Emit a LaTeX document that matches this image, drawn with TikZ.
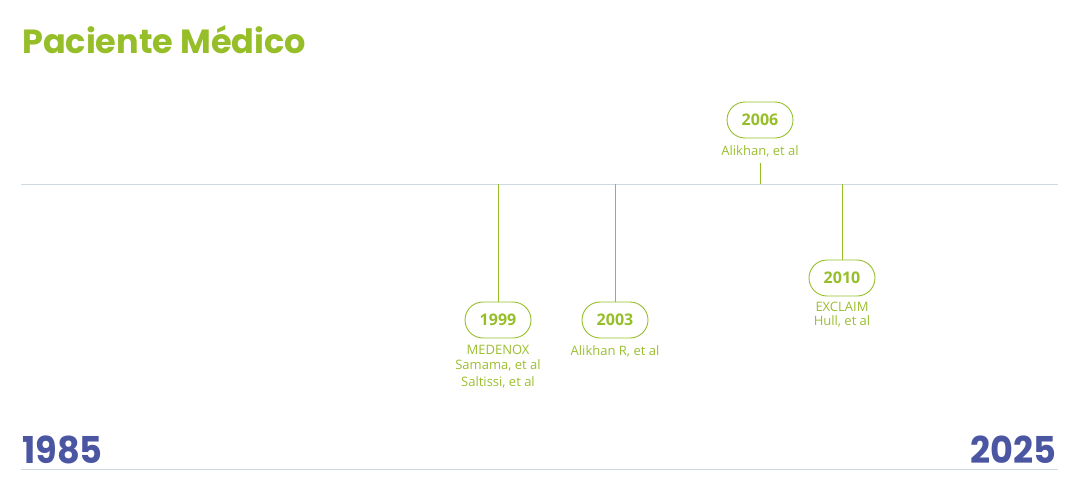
\documentclass[tikz,border=0pt]{standalone}
\usepackage{fontspec}
\setmainfont{Open Sans}
\newfontfamily\titlefont{Poppins}
\newfontfamily\yearfont{Poppins}[FakeStretch=0.95]
\definecolor{lime}{HTML}{96BE28}
\definecolor{limetxt}{HTML}{9BBE2F}
\definecolor{navy}{HTML}{4B56A2}
\definecolor{axisgray}{HTML}{CDD8E0}
\begin{document}
\begin{tikzpicture}[x=1pt,y=-1pt,
  pill/.style={draw=lime, line width=0.9pt, rounded corners=18pt, minimum width=66pt, minimum height=36pt, inner sep=0pt, text=lime, font=\fontsize{16}{16}\selectfont\bfseries},
  stem/.style={draw=lime, line width=0.9pt},
  lbl/.style={text=limetxt, font=\fontsize{13}{15}\selectfont, align=center, inner sep=0pt},
  axis/.style={draw=axisgray, line width=0.8pt},
  year/.style={text=navy, font=\yearfont\fontsize{37}{37}\selectfont\bfseries, inner sep=0pt}
]
\useasboundingbox (0,0) rectangle (1080,490);
\node[anchor=base west, inner sep=0pt, text=lime, font=\titlefont\fontsize{33.5}{33.5}\selectfont\bfseries] (title) at (22,53) {Paciente Médico};
\coordinate (axL) at (21,184); \coordinate (axR) at (1058,184);
\draw[axis] (axL) -- (axR);
\coordinate (bL) at (21,469); \coordinate (bR) at (1058,469);
\draw[axis] (bL) -- (bR);
\node[year, anchor=base west] (y1985) at (22,463) {1985};
\node[year, anchor=base east] (y2025) at (1057,463) {2025};
% 1999
\coordinate (a1999) at (498,184);
\node[pill] (p1999) at (498,320) {1999};
\draw[stem] (a1999) -- (p1999.north);
\node[lbl, anchor=north] (l1999) at (498,345) {MEDENOX\\Samama, et al\\[2pt]Saltissi, et al};
% 2003
\coordinate (a2003) at (615,184);
\node[pill] (p2003) at (615,320) {2003};
\draw[stem] (a2003) -- (p2003.north);
\node[lbl, anchor=north] (l2003) at (615,345) {Alikhan R, et al};
% 2006
\node[pill] (p2006) at (760,120) {2006};
\node[lbl, anchor=north] (l2006) at (760,145) {Alikhan, et al};
\coordinate (s2006) at (760,163);
\coordinate (a2006) at (760,184);
\draw[stem] (s2006) -- (a2006);
% 2010
\coordinate (a2010) at (842,184);
\node[pill] (p2010) at (842,278) {2010};
\draw[stem] (a2010) -- (p2010.north);
\node[lbl, anchor=north, font=\fontsize{13}{14}\selectfont] (l2010) at (842,302) {EXCLAIM\\Hull, et al};
\end{tikzpicture}
\end{document}
